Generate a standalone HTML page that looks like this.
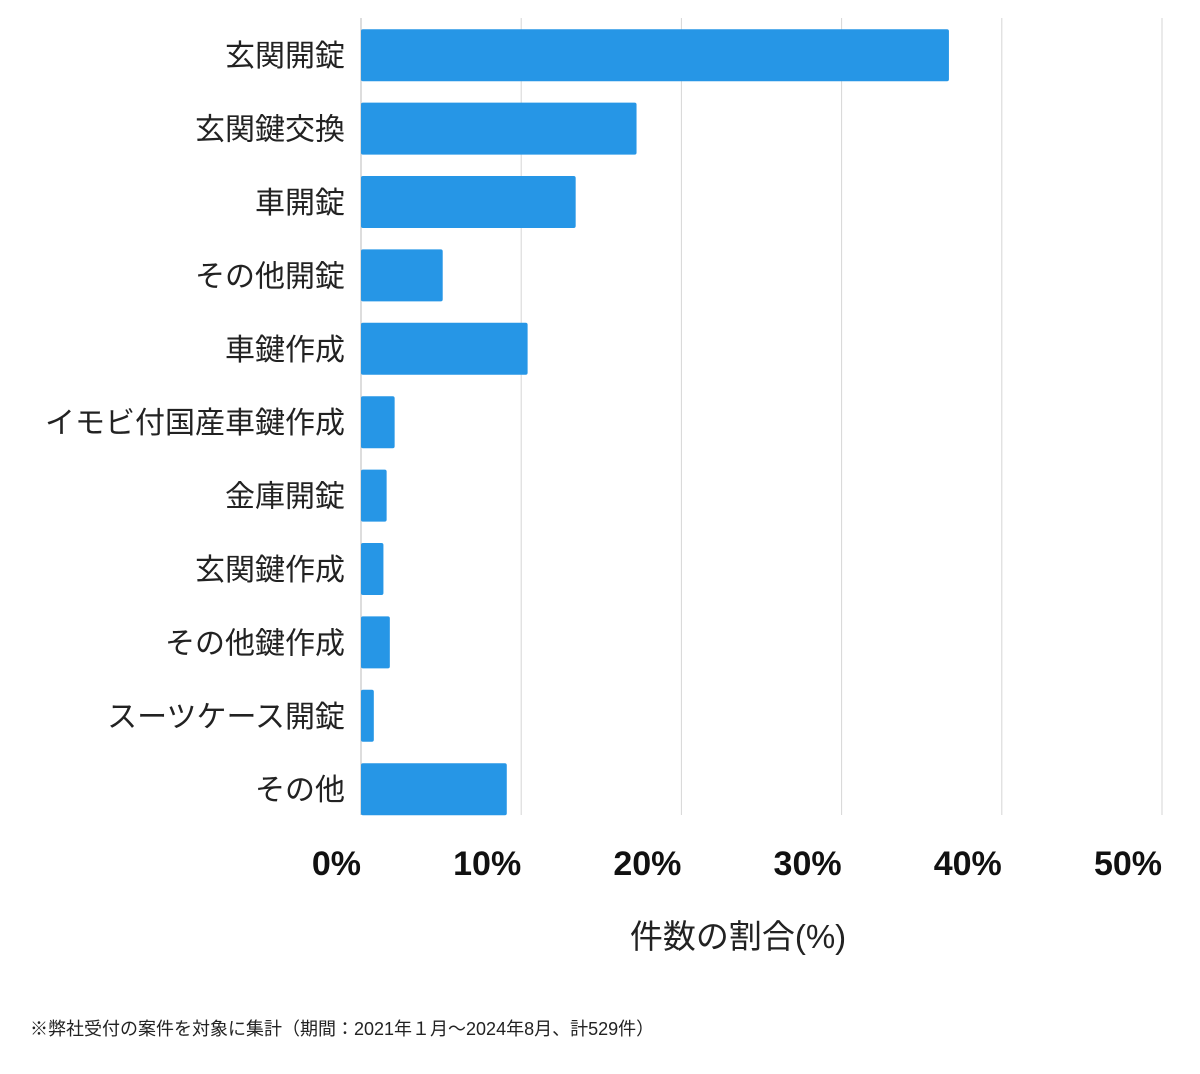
<!DOCTYPE html>
<html><head><meta charset="utf-8"><style>
body{margin:0;background:#fff;width:1200px;height:1069px;overflow:hidden}
svg text{font-family:"Liberation Sans","Noto Sans CJK JP",sans-serif}
</style></head><body>
<svg id="chart" width="1200" height="1069" xmlns="http://www.w3.org/2000/svg">
<g id="grid"></g><g id="bars"></g><g id="cats"></g><g id="ticks"></g>
<text x="738" y="948" font-size="33" text-anchor="middle" fill="#222">件数の割合(%)</text>
<text x="30" y="1035" font-size="18" fill="#222">※弊社受付の案件を対象に集計（期間：2021年１月〜2024年8月、計529件）</text>
</svg>
<script>
const categories=["玄関開錠","玄関鍵交換","車開錠","その他開錠","車鍵作成","イモビ付国産車鍵作成","金庫開錠","玄関鍵作成","その他鍵作成","スーツケース開錠","その他"];
const values=[36.7,17.2,13.4,5.1,10.4,2.1,1.6,1.4,1.8,0.8,9.1];
const tickValues=[0,10,20,30,40,50];
const tickLabels=["0%","10%","20%","30%","40%","50%"];
const NS="http://www.w3.org/2000/svg";
const x0=361,pxPer=16.02,top0=18.5,rowH=73.4,barH=52;
const xs=v=>x0+v*pxPer;
const ys=i=>top0+i*rowH+(rowH-barH)/2;
const mk=(t,a)=>{const e=document.createElementNS(NS,t);for(const k in a)e.setAttribute(k,a[k]);return e;};
const grid=document.getElementById('grid'),bars=document.getElementById('bars'),cats=document.getElementById('cats'),ticks=document.getElementById('ticks');
tickValues.forEach((v,i)=>{
 const l=mk('line',{x1:xs(v),x2:xs(v),y1:18,y2:815,stroke:i==0?'#bbb':'#d6d6d6','stroke-width':1});
 
 
 grid.appendChild(l);
 const t=mk('text',{x:xs(v),y:875,'font-size':34,'font-weight':'bold','text-anchor':'end',fill:'#111'});
 t.textContent=tickLabels[i];
 
 
 ticks.appendChild(t);
});
categories.forEach((c,i)=>{
 const r=mk('rect',{x:x0,y:ys(i),width:xs(values[i])-x0,height:barH,rx:2,fill:'#2696e6'});
 
 
 bars.appendChild(r);
 const t=mk('text',{x:345,y:ys(i)+barH/2+11,'font-size':30,'text-anchor':'end',fill:'#222'});
 t.textContent=c;
 
 
 cats.appendChild(t);
});
</script>
</body></html>
